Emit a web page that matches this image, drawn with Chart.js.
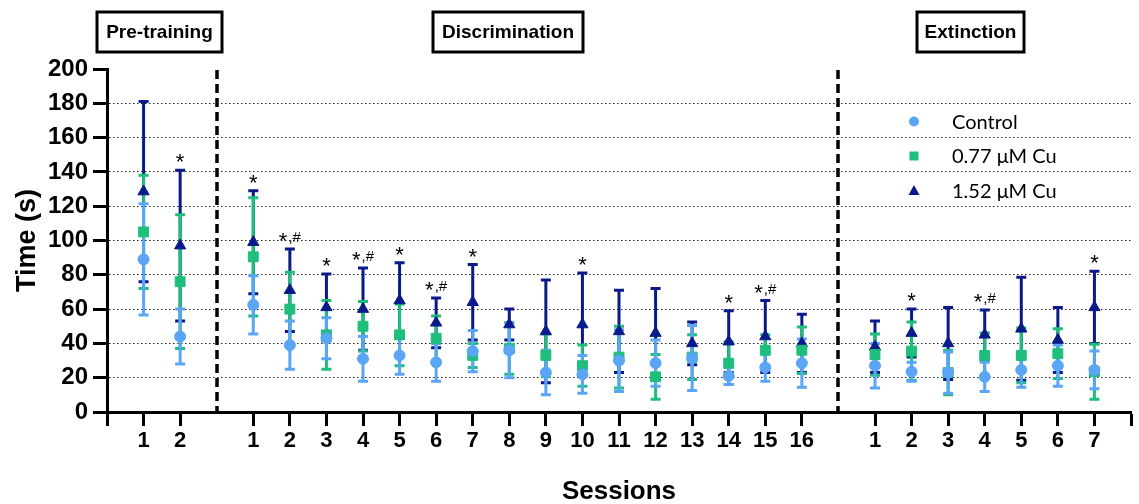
<!DOCTYPE html>
<html>
<head>
<meta charset="utf-8">
<title>Sessions</title>
<script src="https://cdn.jsdelivr.net/npm/chart.js@4.4.1/dist/chart.umd.min.js"></script>
<style>
  body { margin: 0; background: #fff; }
  #wrap { width: 1139px; height: 504px; }
</style>
</head>
<body>
<div id="wrap"><canvas id="myGraf" width="1139" height="504"></canvas></div>
<script>
// positions on the x axis (3 and 20 are the gaps between phases)
var positions = [1, 2, 4, 5, 6, 7, 8, 9, 10, 11, 12, 13, 14, 15, 16, 17, 18, 19, 21, 22, 23, 24, 25, 26, 27];
var sessionLabels = ['1', '2', '1', '2', '3', '4', '5', '6', '7', '8', '9', '10', '11', '12', '13', '14', '15', '16', '1', '2', '3', '4', '5', '6', '7'];
var phaseSplits = [3, 20];
var phaseNames = ['Pre-training', 'Discrimination', 'Extinction'];
var seriesNames = ['Control', '0.77 \u03bcM Cu', '1.52 \u03bcM Cu'];

var controlMean = [89, 44, 62.5, 39, 43, 31, 33, 29, 35.5, 36, 23, 22, 30, 28.5, 31.5, 21, 26, 28.5, 27, 23.5, 23, 20.5, 24.5, 27, 24.5];
var controlErr = [32.5, 16, 17, 14, 12, 13, 11, 11, 12, 16, 13, 11, 18, 13.5, 19, 5, 8, 14, 13, 5.5, 12, 8.5, 10, 12, 11];
var cu077Mean = [105, 76, 90.5, 60, 45, 50, 45, 43, 33, 37, 33, 27, 32, 20.5, 32, 28.5, 36, 36, 33.5, 35.5, 23, 33, 33, 34, 23.5];
var cu077Err = [33, 39, 34.5, 21.5, 20, 14.5, 18, 13, 7, 15, 12.5, 12, 18, 13, 13, 12.5, 9, 13.5, 12, 17, 13, 13, 16, 14.5, 16];
var cu152Mean = [128.5, 97, 99, 71, 61, 60, 65, 52, 64, 51, 47, 51, 47, 46, 40, 41, 44, 40, 38, 46, 40, 45, 48.5, 42, 61];
var cu152Err = [52.5, 44, 30, 24, 19.5, 24, 22, 14.5, 22, 9, 30, 30, 24, 26, 12.5, 18, 21, 17, 15, 14, 21, 14.5, 30, 19, 21];

// significance marks above the 1.52 uM bars
var marks = ['', '*', '*', '*,#', '*', '*,#', '*', '*,#', '*', '', '', '*', '', '', '', '*', '*,#', '', '', '*', '', '*,#', '', '', '*'];

var colControl = '#5aa5f5';
var col077 = '#1dbf7a';
var col152 = '#0b1a8a';

function toPoints(mean) {
    return positions.map(function(p, i) { return {x: p, y: mean[i]}; });
}

function labelAt(v) {
    var i = positions.indexOf(v);
    return i >= 0 ? sessionLabels[i] : '';
}

var errorBars = {
    id: 'errorBars',
    beforeDatasetsDraw: function(chart) {
        var ctx = chart.ctx;
        var xs = chart.scales.x, ys = chart.scales.y;
        var area = chart.chartArea;

        // dashed separators between phases
        ctx.save();
        ctx.strokeStyle = '#000';
        ctx.lineWidth = 3.5;
        ctx.setLineDash([9, 5]);
        phaseSplits.forEach(function(v) {
            var px = Math.round(xs.getPixelForValue(v));
            ctx.beginPath();
            ctx.moveTo(px, area.top + 1);
            ctx.lineTo(px, area.bottom);
            ctx.stroke();
        });
        ctx.restore();

        var groups = [[cu152Mean, cu152Err, col152], [cu077Mean, cu077Err, col077], [controlMean, controlErr, colControl]];
        ctx.save();
        ctx.lineWidth = 3;
        groups.forEach(function(g) {
            ctx.strokeStyle = g[2];
            positions.forEach(function(p, i) {
                var px = xs.getPixelForValue(p);
                var top = ys.getPixelForValue(g[0][i] + g[1][i]);
                var bot = ys.getPixelForValue(Math.max(g[0][i] - g[1][i], 0));
                ctx.beginPath();
                ctx.moveTo(px, top);
                ctx.lineTo(px, bot);
                ctx.moveTo(px - 5, top);
                ctx.lineTo(px + 5, top);
                ctx.moveTo(px - 5, bot);
                ctx.lineTo(px + 5, bot);
                ctx.stroke();
            });
        });
        ctx.restore();
    },
    afterDraw: function(chart) {
        var ctx = chart.ctx;
        var xs = chart.scales.x, ys = chart.scales.y;

        // significance marks
        ctx.save();
        ctx.fillStyle = '#000';
        ctx.textBaseline = 'alphabetic';
        positions.forEach(function(p, i) {
            if (!marks[i]) return;
            var px = xs.getPixelForValue(p);
            var py = ys.getPixelForValue(cu152Mean[i] + cu152Err[i]) - 1;
            var rest = marks[i].slice(1);
            ctx.font = '22px "Liberation Sans", Arial, sans-serif';
            var w1 = ctx.measureText('*').width;
            ctx.font = '15px "Liberation Sans", Arial, sans-serif';
            var w2 = rest ? ctx.measureText(rest).width + 1 : 0;
            var x0 = px - (w1 + w2) / 2;
            ctx.textAlign = 'left';
            ctx.font = '22px "Liberation Sans", Arial, sans-serif';
            ctx.fillText('*', x0, py);
            if (rest) {
                ctx.font = '15px "Liberation Sans", Arial, sans-serif';
                ctx.fillText(rest, x0 + w1 + 1, py - 6);
            }
        });
        ctx.restore();

        // phase boxes on top
        var boxes = [[97, 12, 125, 40], [433, 12, 150, 40], [917, 12, 107, 40]];
        ctx.save();
        ctx.strokeStyle = '#000';
        ctx.lineWidth = 3;
        ctx.fillStyle = '#000';
        ctx.font = 'bold 19px "Liberation Sans", Arial, sans-serif';
        ctx.textAlign = 'center';
        ctx.textBaseline = 'middle';
        boxes.forEach(function(b, i) {
            ctx.strokeRect(b[0], b[1], b[2], b[3]);
            ctx.fillText(phaseNames[i], b[0] + b[2] / 2, b[1] + b[3] / 2 + 1);
        });
        ctx.restore();

        // legend
        var rows = [121.5, 156, 191];
        var cols = [colControl, col077, col152];
        ctx.save();
        ctx.font = '20px Lato, "Open Sans", sans-serif';
        ctx.textAlign = 'left';
        ctx.textBaseline = 'middle';
        rows.forEach(function(y, i) {
            var x = 914;
            ctx.fillStyle = cols[i];
            ctx.beginPath();
            if (i === 0) {
                ctx.arc(x, y, 5, 0, Math.PI * 2);
            } else if (i === 1) {
                ctx.rect(x - 4.5, y - 4.5, 9, 9);
            } else {
                ctx.moveTo(x, y - 6);
                ctx.lineTo(x + 5.5, y + 4);
                ctx.lineTo(x - 5.5, y + 4);
                ctx.closePath();
            }
            ctx.fill();
            ctx.fillStyle = '#000';
            ctx.fillText(seriesNames[i], 952, y + 1);
        });
        ctx.restore();
    }
};

var ctx = document.getElementById('myGraf').getContext('2d');
var myGraf = new Chart(ctx, {
    type: 'scatter',
    data: {
        datasets: [{
            label: seriesNames[0],
            data: toPoints(controlMean),
            pointStyle: 'circle',
            pointRadius: 5.5,
            backgroundColor: colControl,
            borderColor: colControl,
            borderWidth: 1
        }, {
            label: seriesNames[1],
            data: toPoints(cu077Mean),
            pointStyle: 'rect',
            pointRadius: 7,
            backgroundColor: col077,
            borderColor: col077,
            borderWidth: 1
        }, {
            label: seriesNames[2],
            data: toPoints(cu152Mean),
            pointStyle: 'triangle',
            pointRadius: 6.5,
            backgroundColor: col152,
            borderColor: col152,
            borderWidth: 1
        }]
    },
    options: {
        responsive: false,
        animation: false,
        devicePixelRatio: 1,
        layout: { padding: { top: 69, left: 0, right: 0, bottom: 0 } },
        plugins: {
            legend: { display: false },
            tooltip: { enabled: false }
        },
        scales: {
            x: {
                type: 'linear',
                min: 0,
                max: 28,
                afterFit: function(scale) { scale.height = 92; },
                border: { display: true, color: '#000', width: 3 },
                grid: {
                    drawOnChartArea: false,
                    drawTicks: true,
                    tickLength: 14,
                    tickWidth: 3,
                    tickColor: function(c) {
                        return phaseSplits.indexOf(c.tick && c.tick.value) >= 0 ? 'rgba(0,0,0,0)' : '#000';
                    }
                },
                ticks: {
                    stepSize: 1,
                    maxTicksLimit: 40,
                    autoSkip: false,
                    maxRotation: 0,
                    padding: 2,
                    color: '#000',
                    font: { family: '"Liberation Sans", Arial, sans-serif', size: 22, weight: 'bold' },
                    callback: function(v) { return labelAt(v); }
                },
                title: {
                    display: true,
                    text: 'Sessions',
                    color: '#000',
                    padding: { top: 0, bottom: -3 },
                    font: { family: '"Liberation Sans", Arial, sans-serif', size: 26, weight: 'bold' }
                }
            },
            y: {
                min: 0,
                max: 200,
                afterFit: function(scale) { scale.width = 107; },
                border: { display: true, color: '#000', width: 3, dash: [1.5, 2.5] },
                grid: {
                    drawTicks: true,
                    tickLength: 14,
                    tickWidth: 3,
                    tickColor: '#000',
                    lineWidth: 1,
                    color: function(c) {
                        var v = c.tick && c.tick.value;
                        return (v === 0 || v === 200) ? 'rgba(0,0,0,0)' : '#222';
                    }
                },
                ticks: {
                    stepSize: 20,
                    padding: 5,
                    color: '#000',
                    font: { family: '"Liberation Sans", Arial, sans-serif', size: 24, weight: 'bold' }
                },
                title: {
                    display: true,
                    text: 'Time (s)',
                    color: '#000',
                    padding: { top: 11, bottom: 0 },
                    font: { family: '"Liberation Sans", Arial, sans-serif', size: 27, weight: 'bold' }
                }
            }
        }
    },
    plugins: [errorBars]
});
</script>
</body>
</html>
